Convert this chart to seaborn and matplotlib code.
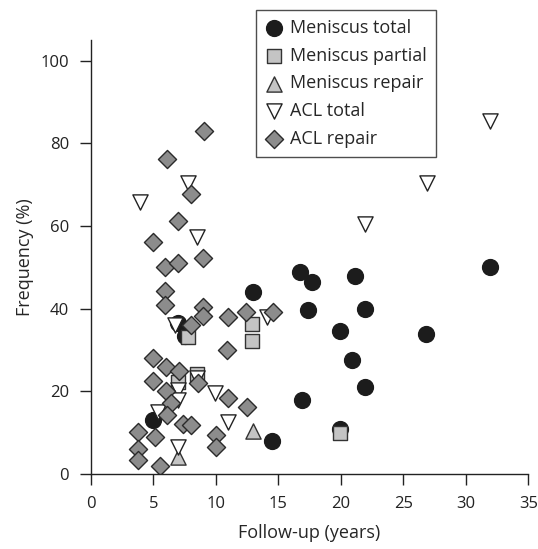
import pandas as pd
import matplotlib
matplotlib.use("Agg")
import matplotlib.pyplot as plt
import seaborn as sns

# values
men_total_x = [5.0, 7.0, 7.5, 13.0, 14.5, 16.7, 17.7, 17.4, 16.9, 19.9, 19.9, 20.9, 21.1, 21.9, 21.9, 26.8, 31.9]
men_total_y = [13, 36.5, 33.4, 44, 8, 48.8, 46.4, 39.7, 18, 34.6, 10.9, 27.6, 47.8, 39.9, 21.1, 33.8, 50]

men_partial_x = [7.0, 8.5, 7.8, 12.9, 12.9, 19.9]
men_partial_y = [22.3, 24.2, 33.1, 36.2, 32.3, 10]

men_repair_x = [7.0, 13.0]
men_repair_y = [4.2, 10.3]

acl_total_x = [3.9, 7.8, 8.45, 6.7, 14.1, 8.5, 7.0, 9.9, 7.0, 5.4, 11.0, 7.0, 21.9, 26.9, 31.9]
acl_total_y = [65.7, 70.3, 57.4, 36, 38, 23.2, 20.3, 19.5, 18, 15, 12.7, 6.6, 60.5, 70.3, 85.3]

acl_repair_x = [9.07, 6.05, 8.0, 7.0, 5.0, 5.9, 7.0, 9.0, 5.96, 5.96, 9.0, 9.0, 11.0, 12.4, 14.6, 8.0,
                10.9, 5.0, 6.0, 7.04, 8.6, 5.0, 6.0, 11.0, 6.4, 12.45, 6.05, 7.4, 8.0, 3.8, 5.1, 10.0,
                10.0, 3.8, 3.8, 5.5]
acl_repair_y = [83.1, 76.2, 67.8, 61.1, 56.1, 50.1, 51.1, 52.2, 44.2, 40.9, 40.5, 38.3, 38.1, 39.3, 39.3, 36,
                30.1, 28.1, 25.9, 25, 21.9, 22.5, 20, 18.5, 17.2, 16.1, 14.3, 12.1, 11.9, 10.2, 9.0, 9.5,
                6.6, 6.1, 3.4, 2.0]

sns.set_style("ticks")
plt.rcParams['font.family'] = ['Open Sans', 'DejaVu Sans']

fig = plt.figure(figsize=(5.38, 5.49), dpi=100)
ax = fig.add_axes([0.169, 0.1366, 0.813, 0.7905])

series = [
    ("Meniscus total", men_total_x, men_total_y, "o", "#1c1c1c", "#1c1c1c", 130),
    ("Meniscus partial", men_partial_x, men_partial_y, "s", "#c4c4c4", "#333333", 95),
    ("Meniscus repair", men_repair_x, men_repair_y, "^", "#c4c4c4", "#333333", 120),
    ("ACL total", acl_total_x, acl_total_y, "v", "white", "#222222", 120),
    ("ACL repair", acl_repair_x, acl_repair_y, "D", "#8c8c8c", "#2a2a2a", 85),
]

for name, xs, ys, mk, fc, ec, size in series:
    df = pd.DataFrame({"x": xs, "y": ys})
    sns.scatterplot(data=df, x="x", y="y", marker=mk, color=fc, edgecolor=ec,
                    linewidth=1.0, s=size, label=name, ax=ax)

ax.set_xlim(0, 35)
ax.set_ylim(0, 105)
ax.set_xticks(range(0, 36, 5))
ax.set_yticks(range(0, 101, 20))
ax.set_xlabel("Follow-up (years)", fontsize=13, labelpad=9)
ax.set_ylabel("Frequency (%)", fontsize=13, labelpad=5)
ax.tick_params(direction="out", length=7.7, width=1, pad=8, labelsize=12,
               color="#222222", labelcolor="#222222")
for side in ["top", "right"]:
    ax.spines[side].set_visible(False)
for side in ["left", "bottom"]:
    ax.spines[side].set_color("#222222")
    ax.spines[side].set_linewidth(1)

leg = ax.legend(loc="upper left", bbox_to_anchor=(0.476, 0.982), bbox_transform=fig.transFigure,
                frameon=True, fancybox=False, fontsize=13, handletextpad=0.4,
                labelspacing=0.54, borderpad=0.5, handlelength=1.0, borderaxespad=0)
leg.get_frame().set_edgecolor("#222222")
leg.get_frame().set_linewidth(1)

fig.savefig("out.png", dpi=100)
